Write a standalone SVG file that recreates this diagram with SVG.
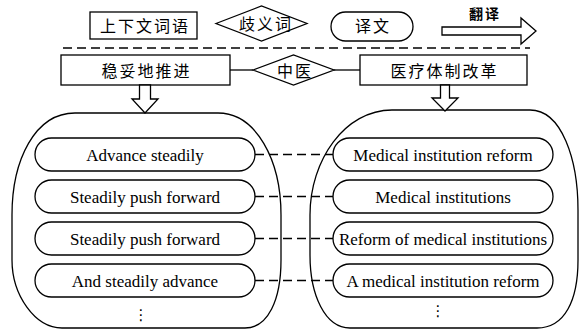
<svg xmlns="http://www.w3.org/2000/svg" width="581" height="330" viewBox="0 0 581 330">
<style>
.s{fill:none;stroke:#000;stroke-width:1.3}
.w{fill:#fff;stroke:#000;stroke-width:1.3}
.en{font-family:"Liberation Serif","Times New Roman",serif;font-size:17px;text-anchor:middle;fill:#000}
.zh{font-family:"Liberation Serif","Noto Sans CJK SC",sans-serif;font-size:16px;text-anchor:middle;letter-spacing:2px;fill:#000}
.d{fill:none;stroke:#000;stroke-width:1.3;stroke-dasharray:9 5}
.dots{font-family:"DejaVu Sans",sans-serif;font-size:15px;text-anchor:middle;fill:#000}
</style>
<rect width="581" height="330" fill="#fff"/>

<g id="legend-context">
<rect class="w" x="90" y="12" width="107" height="27"/>
<text class="zh" x="145" y="32">上下文词语</text>
</g>
<g id="legend-ambiguous">
<polygon class="w" points="216,23.5 261.5,6 307,23.5 261.5,41"/>
<text class="zh" x="266" y="30">歧义词</text>
</g>
<g id="legend-translation">
<rect class="w" x="331" y="12" width="82" height="29" rx="14.5"/>
<text class="zh" x="373" y="32">译文</text>
</g>
<g id="legend-arrow">
<polygon class="w" points="442,27 521,27 521,18 536,31 521,44 521,35 442,35"/>
<text class="zh" x="485" y="19" style="font-weight:bold;font-size:14px">翻译</text>
</g>
<line id="separator" class="d" x1="63" y1="48" x2="530" y2="48"/>

<g id="source-term">
<rect class="w" x="61" y="55" width="169" height="30"/>
<text class="zh" x="146.5" y="77">稳妥地推进</text>
</g>
<g id="context-term">
<polygon class="w" points="253,70 293.5,55 334,70 293.5,85"/>
<text class="zh" x="295" y="77">中医</text>
</g>
<g id="target-term">
<rect class="w" x="360" y="55" width="167" height="30"/>
<text class="zh" x="444.5" y="77">医疗体制改革</text>
</g>

<g id="left-set">
<path class="s" d="M75,113 L218,113 C256,113 281,160 281,215 L281,260 C281,300 268,328 245,328 L62,328 C35,328 12,295 12,260 L12,215 C12,160 35,113 75,113 Z"/>
</g>
<g id="right-set">
<path class="s" d="M392,110 L530,110 C562,110 578,160 578,210 L578,260 C578,300 565,328 537,328 L350,328 C325,328 310,295 310,255 L310,215 C310,160 345,110 392,110 Z"/>
</g>

<g id="l1"><rect class="w" x="35" y="138" width="220" height="33" rx="16.5"/><text class="en" x="145" y="160.5">Advance steadily</text></g>
<g id="l2"><rect class="w" x="35" y="180" width="220" height="33" rx="16.5"/><text class="en" x="145" y="202.5">Steadily push forward</text></g>
<g id="l3"><rect class="w" x="35" y="222" width="220" height="33" rx="16.5"/><text class="en" x="145" y="244.5">Steadily push forward</text></g>
<g id="l4"><rect class="w" x="35" y="264" width="220" height="33" rx="16.5"/><text class="en" x="145" y="286.5">And steadily advance</text></g>
<text class="dots" x="141" y="320">⋮</text>

<g id="r1"><rect class="w" x="333" y="138" width="220" height="33" rx="16.5"/><text class="en" x="443" y="160.5">Medical institution reform</text></g>
<g id="r2"><rect class="w" x="333" y="180" width="220" height="33" rx="16.5"/><text class="en" x="443" y="202.5">Medical institutions</text></g>
<g id="r3"><rect class="w" x="333" y="222" width="220" height="33" rx="16.5"/><text class="en" x="443" y="244.5">Reform of medical institutions</text></g>
<g id="r4"><rect class="w" x="333" y="264" width="220" height="33" rx="16.5"/><text class="en" x="443" y="286.5">A medical institution reform</text></g>
<text class="dots" x="438" y="316">⋮</text>

<g id="connectors">
<line class="s" x1="230" y1="70" x2="253" y2="70"/>
<line class="s" x1="334" y1="70" x2="360" y2="70"/>
<polygon class="w" points="139.5,85 139.5,99 132,99 145,113 158,99 150.5,99 150.5,85"/>
<polygon class="w" points="440.5,85 440.5,98 432,98 445,111 458,98 449.5,98 449.5,85"/>
<line class="d" x1="255" y1="154.5" x2="333" y2="154.5"/>
<line class="d" x1="255" y1="196.5" x2="333" y2="196.5"/>
<line class="d" x1="255" y1="238.5" x2="333" y2="238.5"/>
<line class="d" x1="255" y1="280.5" x2="333" y2="280.5"/>
</g>
</svg>
